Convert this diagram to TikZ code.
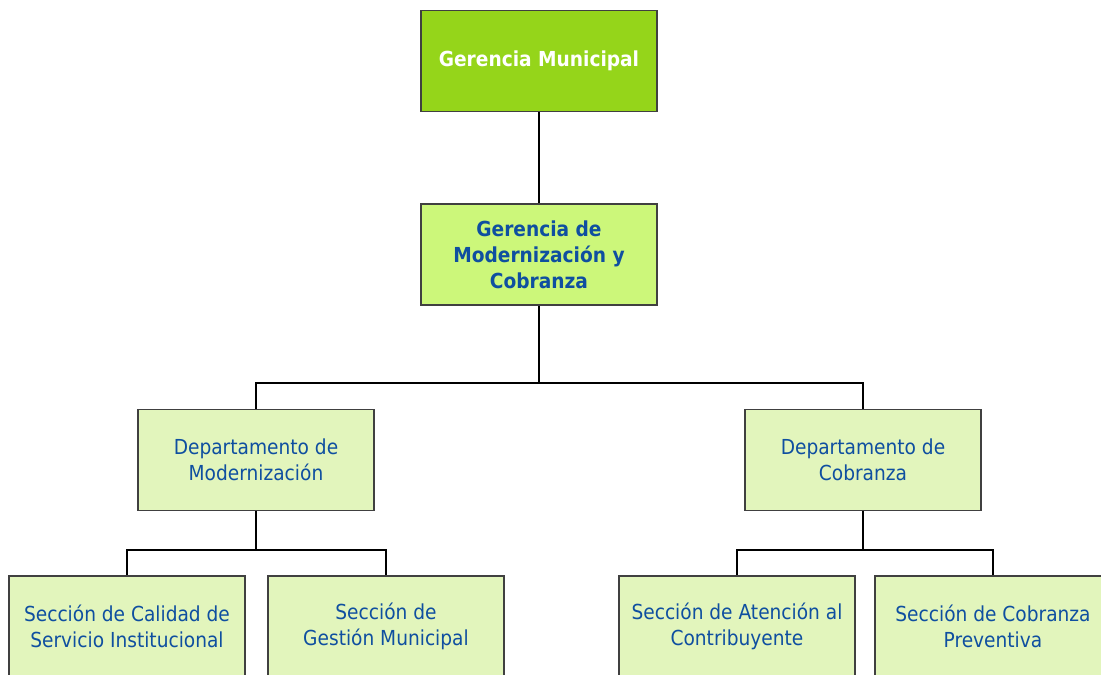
\documentclass[tikz,border=0pt]{standalone}
\usepackage{fontspec}
\setmainfont{DejaVu Sans Condensed}
\usepackage{tikz}

\definecolor{topgreen}{HTML}{95D51A}
\definecolor{midgreen}{HTML}{CCF77A}
\definecolor{palegreen}{HTML}{E2F5BC}
\definecolor{textblue}{HTML}{0F4FA0}
\definecolor{edgegray}{HTML}{404040}

\tikzset{
  unit/.style={draw=edgegray, line width=1.2pt, minimum width=177pt,
    minimum height=76pt, align=center, inner sep=2pt,
    font=\fontsize{15.5}{19.5}\selectfont},
  gerencia/.style={unit, fill=topgreen, text=white, font=\bfseries\fontsize{15.5}{19.5}\selectfont},
  subgerencia/.style={unit, fill=midgreen, text=textblue, font=\bfseries\fontsize{15.5}{19.5}\selectfont},
  depto/.style={unit, fill=palegreen, text=textblue},
  link/.style={line width=1.3pt, black}
}

\begin{document}
\begin{tikzpicture}[x=0.75pt, y=-0.75pt]
    \useasboundingbox (0,0) rectangle (1101,675);
    \clip (0,0) rectangle (1101,675);

    \node[gerencia]    (gm)   at (539, 61)    {Gerencia Municipal};
    \node[subgerencia] (gmc)  at (539, 254.5) {Gerencia de\\Modernización y\\Cobranza};

    \node[depto] (dmod) at (256, 460) {Departamento de\\Modernización};
    \node[depto] (dcob) at (863, 460) {Departamento de\\Cobranza};

    \node[depto] (scal) at (127, 626.5) {Sección de Calidad de\\Servicio Institucional};
    \node[depto] (sges) at (386, 626.5) {Sección de\\Gestión Municipal};
    \node[depto] (sate) at (737, 626.5) {Sección de Atención al\\Contribuyente};
    \node[depto] (spre) at (993, 626.5) {Sección de Cobranza\\Preventiva};

    \coordinate (bus)  at (539, 383);
    \coordinate (busm) at (256, 550);
    \coordinate (busc) at (863, 550);

    \draw[link] (gm) -- (gmc);
    \draw[link] (gmc) -- (bus) -| (dmod);
    \draw[link] (bus) -| (dcob);

    \draw[link] (dmod) -- (busm) -| (scal);
    \draw[link] (busm) -| (sges);
    \draw[link] (dcob) -- (busc) -| (sate);
    \draw[link] (busc) -| (spre);

  \end{tikzpicture}
\end{document}
